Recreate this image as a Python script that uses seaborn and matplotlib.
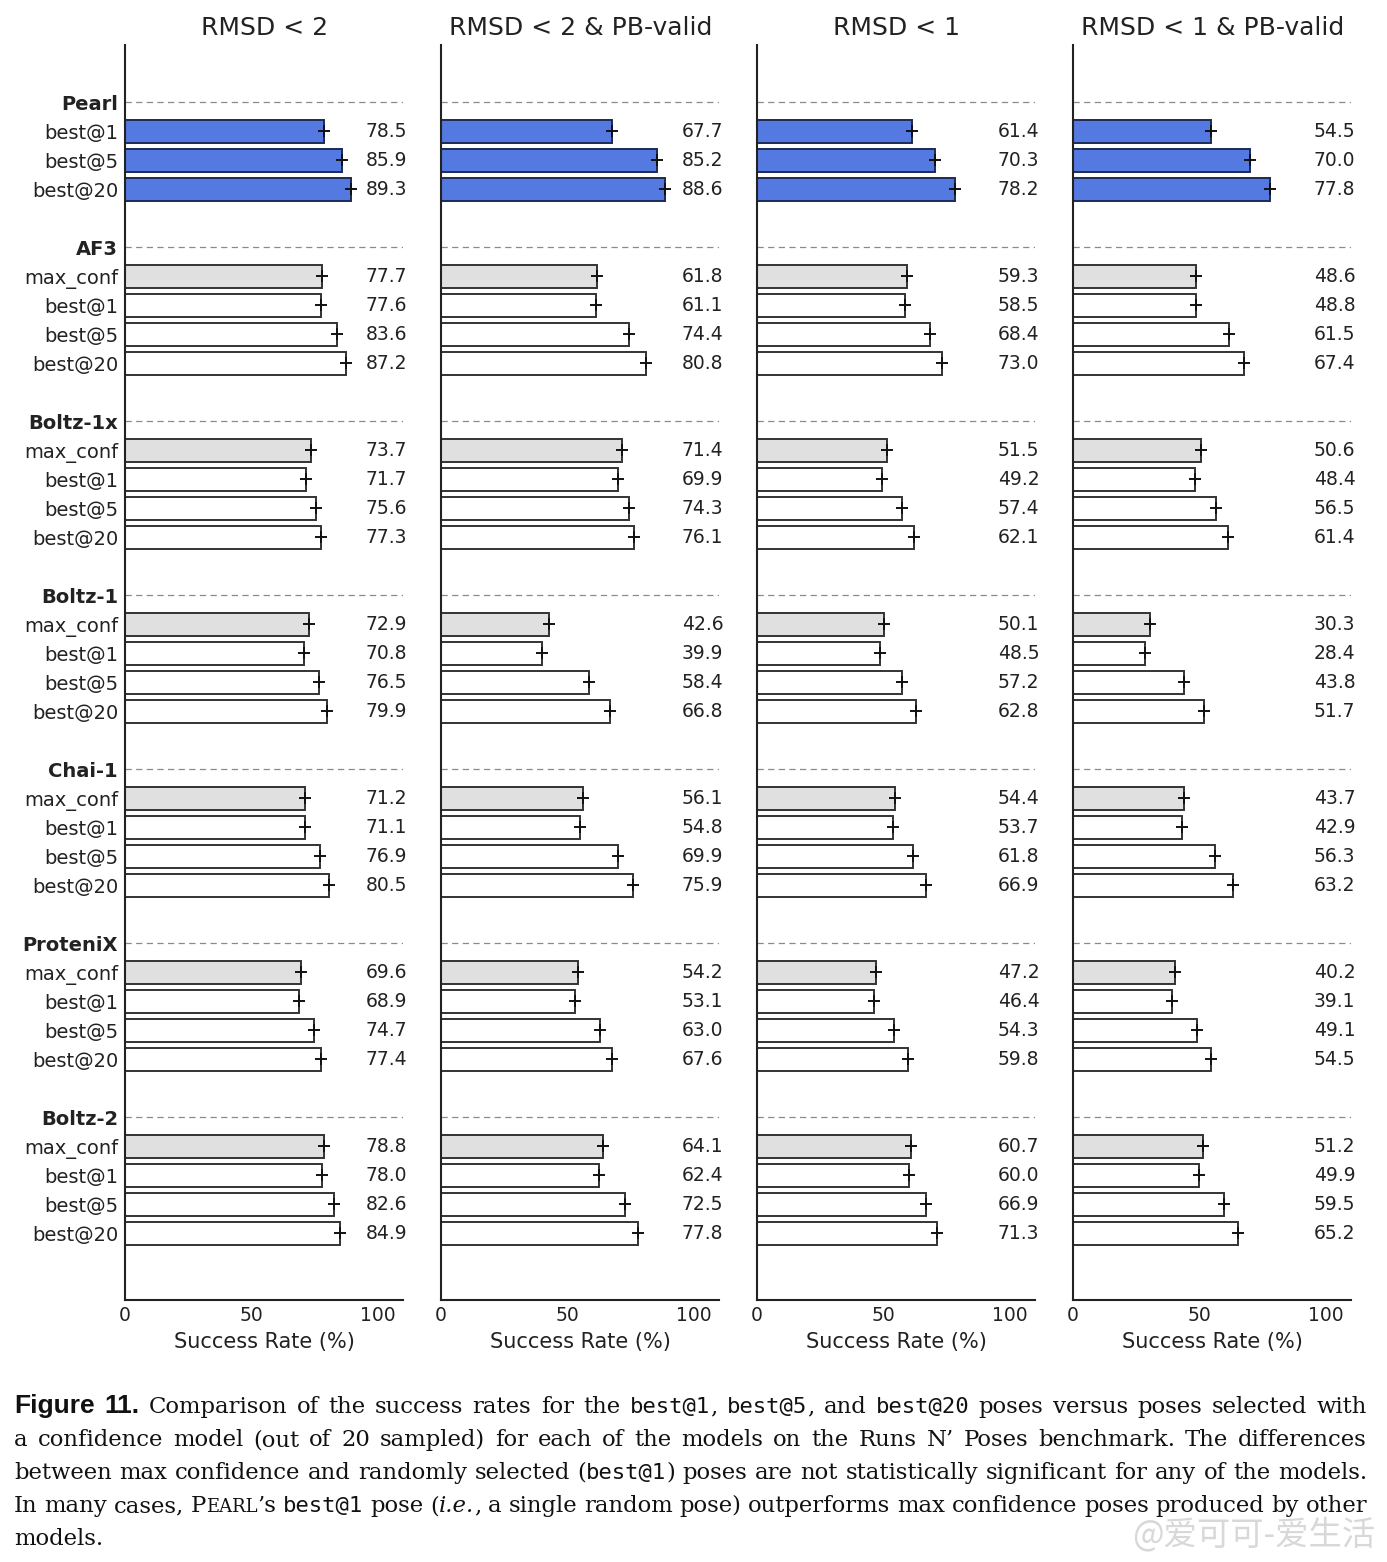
import pandas as pd
import matplotlib
matplotlib.use("Agg")
import matplotlib.pyplot as plt
import seaborn as sns

metrics = ["RMSD < 2", "RMSD < 2 & PB-valid", "RMSD < 1", "RMSD < 1 & PB-valid"]
models = ["Pearl", "AF3", "Boltz-1x", "Boltz-1", "Chai-1", "ProteniX", "Boltz-2"]
pearl_methods = ["best@1", "best@5", "best@20"]
other_methods = ["max_conf", "best@1", "best@5", "best@20"]

# values in model order, methods in the order above
rmsd2 = [78.5, 85.9, 89.3,
         77.7, 77.6, 83.6, 87.2,
         73.7, 71.7, 75.6, 77.3,
         72.9, 70.8, 76.5, 79.9,
         71.2, 71.1, 76.9, 80.5,
         69.6, 68.9, 74.7, 77.4,
         78.8, 78.0, 82.6, 84.9]
rmsd2_pb = [67.7, 85.2, 88.6,
            61.8, 61.1, 74.4, 80.8,
            71.4, 69.9, 74.3, 76.1,
            42.6, 39.9, 58.4, 66.8,
            56.1, 54.8, 69.9, 75.9,
            54.2, 53.1, 63.0, 67.6,
            64.1, 62.4, 72.5, 77.8]
rmsd1 = [61.4, 70.3, 78.2,
         59.3, 58.5, 68.4, 73.0,
         51.5, 49.2, 57.4, 62.1,
         50.1, 48.5, 57.2, 62.8,
         54.4, 53.7, 61.8, 66.9,
         47.2, 46.4, 54.3, 59.8,
         60.7, 60.0, 66.9, 71.3]
rmsd1_pb = [54.5, 70.0, 77.8,
            48.6, 48.8, 61.5, 67.4,
            50.6, 48.4, 56.5, 61.4,
            30.3, 28.4, 43.8, 51.7,
            43.7, 42.9, 56.3, 63.2,
            40.2, 39.1, 49.1, 54.5,
            51.2, 49.9, 59.5, 65.2]
metric_values = [rmsd2, rmsd2_pb, rmsd1, rmsd1_pb]

caption = [
    [("Figure 11.", "b"), (" Comparison of the success rates for the ", "r"), ("best@1", "m"), (", ", "r"),
     ("best@5", "m"), (", and ", "r"), ("best@20", "m"), (" poses versus poses selected with", "r")],
    [("a confidence model (out of 20 sampled) for each of the models on the Runs N\u2019 Poses benchmark.  The differences", "r")],
    [("between max confidence and randomly selected (", "r"), ("best@1", "m"),
     (") poses are not statistically significant for any of the models.", "r")],
    [("In many cases, P", "r"), ("EARL", "s"), ("\u2019s ", "r"), ("best@1", "m"), (" pose (", "r"), ("i.e.", "i"),
     (", a single random pose) outperforms max confidence poses produced by other", "r")],
    [("models.", "r")],
]

PEARL_BLUE = "#5479e0"
palette = {"pearl": PEARL_BLUE, "max_conf": "#e0e0e0", "best": "#ffffff"}
INK = "#222222"


def build_rows():
    recs, headers = [], []
    pos = 0
    for model in models:
        headers.append((pos, model))
        methods = pearl_methods if model == "Pearl" else other_methods
        for m in methods:
            pos += 1
            kind = "pearl" if model == "Pearl" else ("max_conf" if m == "max_conf" else "best")
            recs.append(dict(model=model, method=m, pos=pos, kind=kind))
        pos += 2
    return pd.DataFrame(recs), headers


def to_words(segments):
    words = [[]]
    for text, st in segments:
        parts = text.split(" ")
        for k, p in enumerate(parts):
            if k > 0:
                words.append([])
            if p:
                words[-1].append((p, st))
    return [w for w in words if w]


def draw_caption(fig, lines, x0, x1, y0, dy):
    styles = {
        "r": dict(family="DejaVu Serif", size=16.4),
        "m": dict(family="DejaVu Sans Mono", size=16),
        "b": dict(family="Liberation Sans", weight="bold", size=19),
        "i": dict(family="DejaVu Serif", style="italic", size=16.4),
        "s": dict(family="DejaVu Serif", size=13),
    }
    r = fig.canvas.get_renderer()
    W, H = fig.bbox.width, fig.bbox.height
    for li, seg in enumerate(lines):
        words = to_words(seg)
        widths = []
        for w in words:
            ww = []
            for t, st in w:
                tmp = fig.text(0, 0, t, **styles[st])
                ww.append(tmp.get_window_extent(r).width)
                tmp.remove()
            widths.append(ww)
        total = sum(sum(ww) for ww in widths)
        last = li == len(lines) - 1
        gap = 7.0 if last or len(words) < 2 else (x1 - x0 - total) / (len(words) - 1)
        x = x0
        y = y0 + li * dy
        for w, ww in zip(words, widths):
            for (t, st), wd in zip(w, ww):
                fig.text(x / W, 1 - y / H, t, va="baseline", ha="left", color="#111111", **styles[st])
                x += wd
            x += gap


def plot_results():
    sns.set_theme(style="white")
    plt.rcParams["font.family"] = ["DejaVu Sans"]
    plt.rcParams["text.color"] = INK
    plt.rcParams["axes.labelcolor"] = INK
    plt.rcParams["xtick.color"] = INK
    plt.rcParams["ytick.color"] = INK

    rows, headers = build_rows()
    fig = plt.figure(figsize=(13.87, 15.62), dpi=100)
    lefts = [0.0901, 0.3180, 0.5458, 0.7736]

    for i, (metric, vals) in enumerate(zip(metrics, metric_values)):
        ax = fig.add_axes([lefts[i], 0.1677, 0.2007, 0.8035])
        df = rows.copy()
        df["value"] = vals
        sns.barplot(data=df, x="value", y="pos", hue="kind", orient="h", native_scale=True,
                    dodge=False, palette=palette, hue_order=["pearl", "max_conf", "best"], saturation=1,
                    width=0.8, errorbar=None, legend=False, edgecolor="#333333", linewidth=1.4, ax=ax)
        for p in ax.patches:
            fc = p.get_facecolor()
            if fc[2] > 0.8 and fc[0] < 0.5:
                p.set_edgecolor("#1c2a55")
        # error marks at the bar ends
        ax.plot(df["value"], df["pos"], linestyle="none", marker="+", markersize=8,
                markeredgewidth=1.4, color="#111111")
        for v, y in zip(df["value"], df["pos"]):
            ax.text(111.6, y, f"{v:.1f}", ha="right", va="center", fontsize=13.5, clip_on=False)
        for hp, _ in headers:
            ax.axhline(hp, color="#8a8a8a", linestyle=(0, (5, 3.5)), linewidth=0.9, zorder=0)

        ax.set_xlim(0, 110)
        ax.set_ylim(41.3, -1.97)
        ax.set_xticks([0, 50, 100])
        ax.tick_params(axis="both", length=0, labelsize=13.5)
        ax.tick_params(axis="x", pad=4)
        ax.set_xlabel("Success Rate (%)", fontsize=15, labelpad=5)
        ax.set_ylabel("")
        ax.set_title(metric, fontsize=18, pad=7)
        for s in ["top", "right"]:
            ax.spines[s].set_visible(False)
        for s in ["left", "bottom"]:
            ax.spines[s].set_color(INK)
            ax.spines[s].set_linewidth(1.5)

        tick_pos = [hp for hp, _ in headers] + list(df["pos"])
        if i == 0:
            tick_lab = [m for _, m in headers] + list(df["method"])
            ax.set_yticks(tick_pos, tick_lab)
            ax.tick_params(axis="y", pad=5, labelsize=14)
            n_head = len(headers)
            for k, lab in enumerate(ax.get_yticklabels()):
                if k < n_head:
                    lab.set_fontweight("bold")
        else:
            ax.set_yticks([])

    draw_caption(fig, caption, 14, 1367, 1413, 33)
    fig.text(1375 / 1387, 1 - 1544 / 1562, "@\u7231\u53ef\u53ef-\u7231\u751f\u6d3b", ha="right", va="baseline",
             fontsize=24, color="#d4d4d4", alpha=0.9, family=["Noto Sans CJK SC", "DejaVu Sans"])

    fig.savefig("out.png", dpi=100)


if __name__ == "__main__":
    plot_results()
